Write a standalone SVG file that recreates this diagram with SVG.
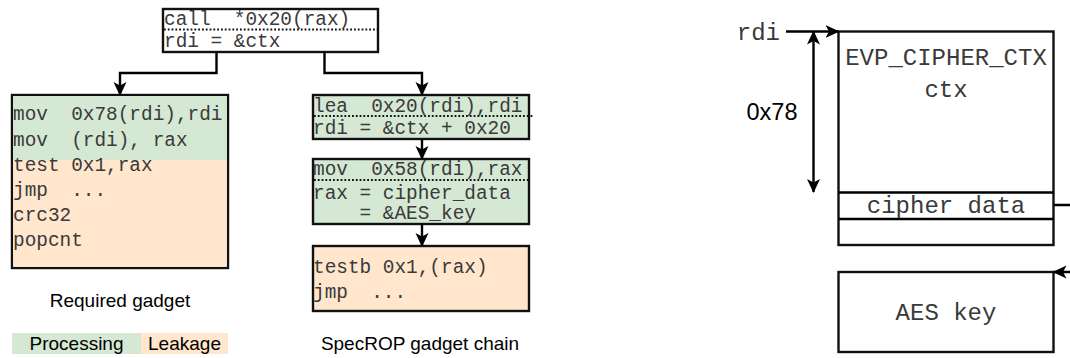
<svg xmlns="http://www.w3.org/2000/svg" width="1070" height="358" viewBox="0 0 1070 358" xml:space="preserve">
  <style>
    .box { stroke: #111; stroke-width: 2.4; fill: #fff; }
    .green { fill: #d5e8d4; }
    .orange { fill: #ffe6cc; }
    .code { font-family: "Liberation Mono", "Courier New", monospace; font-size: 19.4px; fill: #3a3a3a; white-space: pre; }
    .mem { font-family: "Liberation Mono", "Courier New", monospace; font-size: 24px; fill: #3a3a3a; white-space: pre; }
    .label { font-family: "Liberation Sans", Arial, sans-serif; font-size: 19px; fill: #000; }
    .dots { stroke: #111; stroke-width: 1.8; stroke-dasharray: 1.8 2; fill: none; }
    .wire { stroke: #000; stroke-width: 2.4; fill: none; }
  </style>
  <defs>
    <marker id="arrow" viewBox="0 0 14 14" refX="13" refY="7" markerWidth="14" markerHeight="14" markerUnits="userSpaceOnUse" orient="auto-start-reverse">
      <path d="M0,0.5 L14,7 L0,13.5 L3.5,7 Z" fill="#000"/>
    </marker>
  </defs>

  <!-- indirect call site -->
  <g id="call-site">
    <rect class="box" x="163" y="9" width="215" height="43"/>
    <line class="dots" x1="164" y1="29.5" x2="378" y2="29.5"/>
    <text class="code" x="164" y="25">call  *0x20(rax)</text>
    <text class="code" x="164" y="47">rdi = &amp;ctx</text>
  </g>

  <!-- required gadget -->
  <g id="required-gadget">
    <rect class="box" x="12" y="95" width="216" height="173"/>
    <rect class="green" x="13.2" y="96.2" width="213.6" height="63.8"/>
    <rect class="orange" x="13.2" y="160" width="213.6" height="106.8"/>
    <text class="code" x="13" y="120">mov  0x78(rdi),rdi</text>
    <text class="code" x="13" y="145.5">mov  (rdi), rax</text>
    <text class="code" x="13" y="171">test 0x1,rax</text>
    <text class="code" x="13" y="196">jmp  ...</text>
    <text class="code" x="13" y="221">crc32</text>
    <text class="code" x="13" y="246">popcnt</text>
  </g>
  <text class="label" x="120" y="307" text-anchor="middle">Required gadget</text>

  <!-- legend -->
  <g id="legend">
    <rect class="green" x="12" y="333" width="129" height="21"/>
    <rect class="orange" x="141" y="333" width="87" height="21"/>
    <text class="label" x="76.5" y="350" text-anchor="middle">Processing</text>
    <text class="label" x="184.5" y="350" text-anchor="middle">Leakage</text>
  </g>

  <!-- SpecROP chain -->
  <g id="gadget-lea">
    <rect class="box green" x="313" y="95" width="216" height="44"/>
    <line class="dots" x1="314" y1="116" x2="533" y2="116"/>
    <text class="code" x="313" y="111.5">lea  0x20(rdi),rdi</text>
    <text class="code" x="313" y="133.5">rdi = &amp;ctx + 0x20</text>
  </g>
  <g id="gadget-mov">
    <rect class="box green" x="313" y="159" width="216" height="65"/>
    <line class="dots" x1="314" y1="180" x2="529" y2="180"/>
    <text class="code" x="313" y="175">mov  0x58(rdi),rax</text>
    <text class="code" x="313" y="198.5">rax = cipher_data</text>
    <text class="code" x="313" y="219">    = &amp;AES_key</text>
  </g>
  <g id="gadget-leak">
    <rect class="box orange" x="313" y="246" width="216" height="65"/>
    <text class="code" x="313" y="273">testb 0x1,(rax)</text>
    <text class="code" x="313" y="298">jmp  ...</text>
  </g>
  <text class="label" x="420" y="350" text-anchor="middle">SpecROP gadget chain</text>

  <!-- memory layout -->
  <g id="ctx-struct">
    <rect class="box" x="838.5" y="31.5" width="215" height="213.5"/>
    <line class="wire" x1="838.5" y1="192.5" x2="1053.5" y2="192.5"/>
    <line class="wire" x1="838.5" y1="219" x2="1053.5" y2="219"/>
    <text class="mem" x="946" y="65" text-anchor="middle">EVP_CIPHER_CTX</text>
    <text class="mem" x="946" y="96.5" text-anchor="middle">ctx</text>
    <text class="mem" x="946" y="212.5" text-anchor="middle">cipher data</text>
  </g>
  <g id="aes-key">
    <rect class="box" x="838.5" y="272" width="215" height="80"/>
    <text class="mem" x="946" y="320" text-anchor="middle">AES key</text>
  </g>
  <text class="mem" x="780" y="39.5" text-anchor="end">rdi</text>
  <text class="label" x="772" y="120" text-anchor="middle" style="font-size:23.5px">0x78</text>

  <!-- connectors -->
  <g id="connectors">
    <path class="wire" d="M216.5,52 V73 H120 V95" marker-end="url(#arrow)"/>
    <path class="wire" d="M324.5,52 V73 H422 V95" marker-end="url(#arrow)"/>
    <path class="wire" d="M422,139 V159" marker-end="url(#arrow)"/>
    <path class="wire" d="M422,224 V246" marker-end="url(#arrow)"/>
    <path class="wire" d="M786,31.5 H838.5" marker-end="url(#arrow)"/>
    <path class="wire" d="M813.5,31.5 V192" marker-start="url(#arrow)" marker-end="url(#arrow)"/>
    <path class="wire" d="M1053.5,205 H1080 V272 H1053.5" marker-end="url(#arrow)"/>
  </g>
</svg>
